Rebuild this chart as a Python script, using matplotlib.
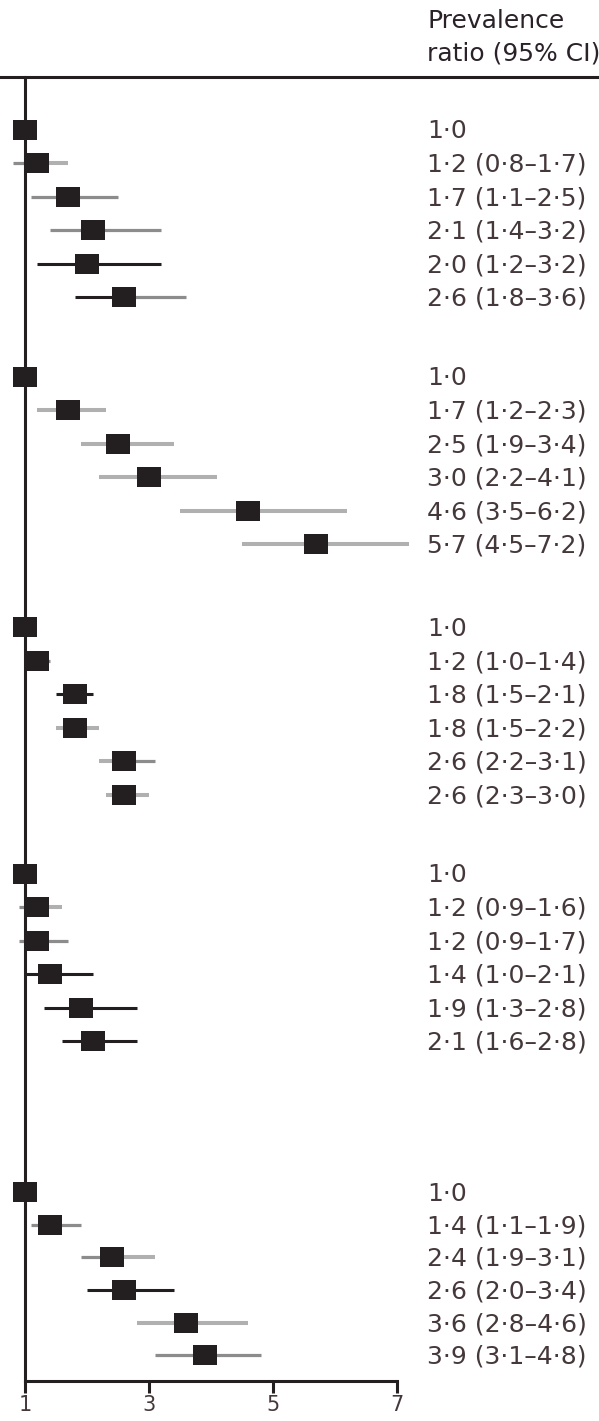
import numpy as np
import matplotlib
matplotlib.use("Agg")
import matplotlib.pyplot as plt
from matplotlib.path import Path
from matplotlib.transforms import offset_copy

# Prevalence ratios with 95% CI, five blocks of six categories each
# (first category of every block is the reference, 1·0)
g1_est = [1.0, 1.2, 1.7, 2.1, 2.0, 2.6]
g1_lo = [None, 0.8, 1.1, 1.4, 1.2, 1.8]
g1_hi = [None, 1.7, 2.5, 3.2, 3.2, 3.6]

g2_est = [1.0, 1.7, 2.5, 3.0, 4.6, 5.7]
g2_lo = [None, 1.2, 1.9, 2.2, 3.5, 4.5]
g2_hi = [None, 2.3, 3.4, 4.1, 6.2, 7.2]

g3_est = [1.0, 1.2, 1.8, 1.8, 2.6, 2.6]
g3_lo = [None, 1.0, 1.5, 1.5, 2.2, 2.3]
g3_hi = [None, 1.4, 2.1, 2.2, 3.1, 3.0]

g4_est = [1.0, 1.2, 1.2, 1.4, 1.9, 2.1]
g4_lo = [None, 0.9, 0.9, 1.0, 1.3, 1.6]
g4_hi = [None, 1.6, 1.7, 2.1, 2.8, 2.8]

g5_est = [1.0, 1.4, 2.4, 2.6, 3.6, 3.9]
g5_lo = [None, 1.1, 1.9, 2.0, 2.8, 3.1]
g5_hi = [None, 1.9, 3.1, 3.4, 4.6, 4.8]

x_ticks = [1, 3, 5, 7]
header = ["Prevalence", "ratio (95% CI)"]

# shading of the CI whisker left / right of each estimate
# k = black, g = light grey, m = mid grey
g1_shade = [None, ("m", "g"), ("m", "m"), ("m", "m"), ("k", "k"), ("k", "m")]
g2_shade = [None, ("g", "g"), ("g", "g"), ("g", "g"), ("g", "g"), ("g", "g")]
g3_shade = [None, ("g", "m"), ("k", "k"), ("g", "g"), ("g", "m"), ("g", "g")]
g4_shade = [None, ("m", "g"), ("m", "m"), ("k", "k"), ("k", "k"), ("k", "k")]
g5_shade = [None, ("m", "m"), ("m", "g"), ("k", "k"), ("g", "g"), ("m", "m")]

groups = [
    (g1_est, g1_lo, g1_hi, g1_shade),
    (g2_est, g2_lo, g2_hi, g2_shade),
    (g3_est, g3_lo, g3_hi, g3_shade),
    (g4_est, g4_lo, g4_hi, g4_shade),
    (g5_est, g5_lo, g5_hi, g5_shade),
]

# vertical layout: row slots (one unit per row), block offsets
block_start = [0.0, 7.37, 14.84, 22.2, 31.7]
row_step = [1.0, 1.0, 1.0, 1.0, 0.975]

INK = "#231f20"
TEXT = "#45383a"
styles = {
    "k": dict(color=INK, lw=2.2),
    "g": dict(color="#b0b0b0", lw=2.9),
    "m": dict(color="#8c8c8c", lw=2.3),
}

W, H, DPI = 599, 1421, 100
fig = plt.figure(figsize=(W / DPI, H / DPI), dpi=DPI)
fig.patch.set_facecolor("white")

top_px, bottom_px = 77, 1381
ax = fig.add_axes([0, 1 - bottom_px / H, 1, (bottom_px - top_px) / H])
ax.set_xlim(0.597, 10.258)
ax.set_ylim(37.34, -1.58)

# slightly wide box marker
box = Path([(-1.0, -0.87), (1.0, -0.87), (1.0, 0.87), (-1.0, 0.87), (-1.0, -0.87)],
           [Path.MOVETO, Path.LINETO, Path.LINETO, Path.LINETO, Path.CLOSEPOLY])

label_tf = offset_copy(ax.transData, fig=fig, x=0, y=-8.5, units="dots")
label_x = 1 + 402 / 62


def fmt(v):
    return f"{v:.1f}".replace(".", "\u00b7")


for (est, lo, hi, shade), y0, step in zip(groups, block_start, row_step):
    for i in range(len(est)):
        y = y0 + i * step
        if lo[i] is not None:
            left, right = shade[i]
            ax.plot([lo[i], est[i]], [y, y], solid_capstyle="butt", zorder=2, **styles[left])
            ax.plot([est[i], hi[i]], [y, y], solid_capstyle="butt", zorder=2, **styles[right])
            txt = f"{fmt(est[i])} ({fmt(lo[i])}\u2013{fmt(hi[i])})"
        else:
            txt = fmt(est[i])
        ax.plot([est[i]], [y], marker=box, markersize=16.6, color=INK,
                markeredgewidth=0, zorder=3)
        ax.text(label_x, y, txt, transform=label_tf, ha="left", va="baseline",
                fontsize=18, color=TEXT, family="DejaVu Sans")

# axes frame: top rule, reference line at 1, bounded bottom axis
ax.spines["right"].set_visible(False)
for s in ["top", "left", "bottom"]:
    ax.spines[s].set_color(INK)
    ax.spines[s].set_linewidth(2.2)
ax.spines["left"].set_position(("data", 1))
ax.spines["bottom"].set_bounds(1, 7)
ax.set_yticks([])
ax.set_xticks(x_ticks)
ax.set_xticklabels([str(t) for t in x_ticks])
ax.tick_params(axis="x", direction="out", length=8.6, width=2.2, color=INK,
               pad=1.2, labelsize=15, labelcolor=TEXT)

fig.text(427 / W, 1 - 28 / H, header[0], ha="left", va="baseline",
         fontsize=18, color="#2a2228")
fig.text(427 / W, 1 - 61 / H, header[1], ha="left", va="baseline",
         fontsize=18, color="#2a2228")

fig.savefig("out.png", dpi=DPI, facecolor="white")
